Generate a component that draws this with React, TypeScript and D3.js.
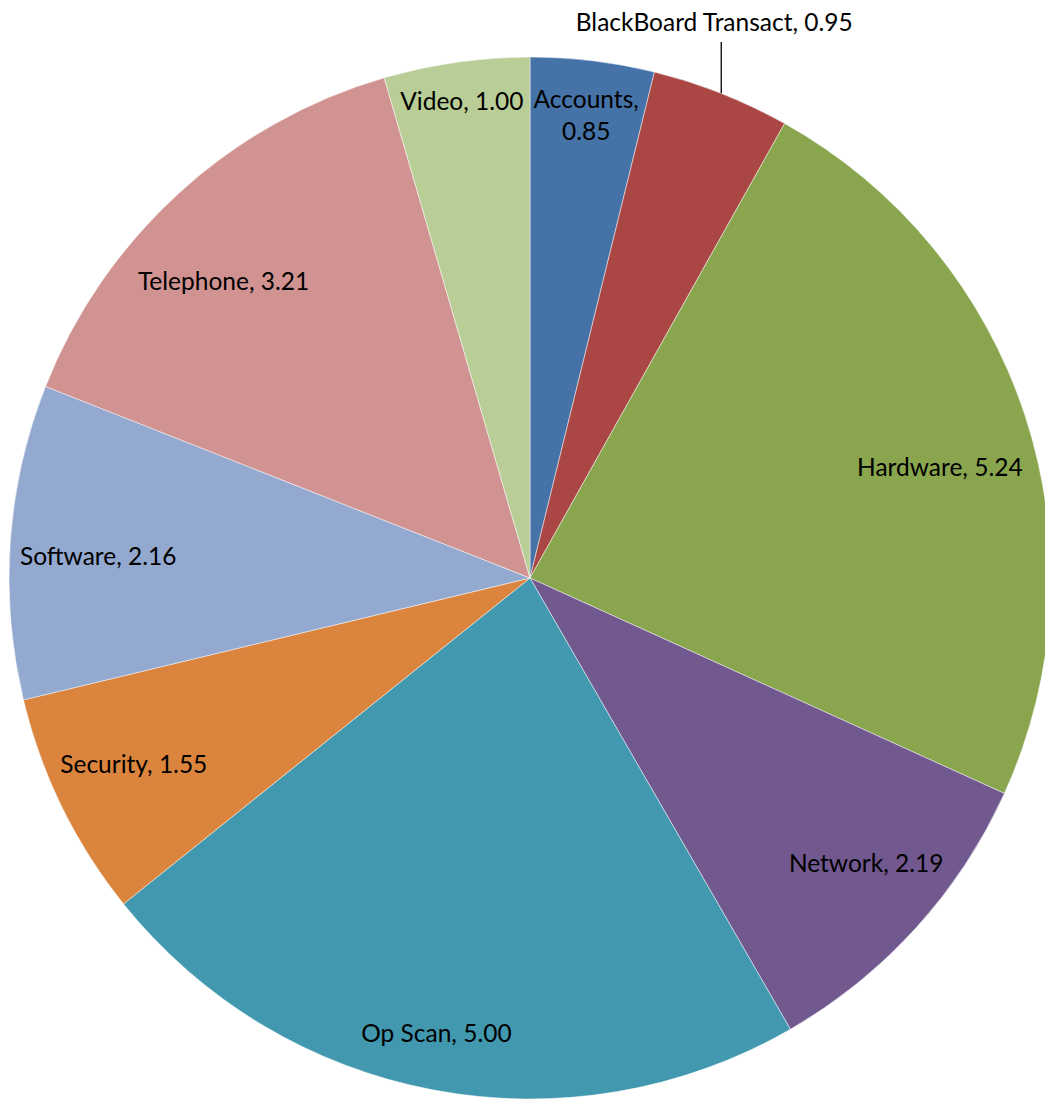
import React, { useEffect, useRef } from 'react';
import * as d3 from 'd3';

const categories = ['Accounts', 'BlackBoard Transact', 'Hardware', 'Network', 'Op Scan', 'Security', 'Software', 'Telephone', 'Video'];
const values = [0.85, 0.95, 5.24, 2.19, 5.0, 1.55, 2.16, 3.21, 1.0];
const colors = ['#4572A7', '#AA4643', '#89A54E', '#71588F', '#4198AF', '#DB843D', '#93A9CF', '#D19392', '#B9CD96'];

// best-fit label placement: radius as fraction of R, angle shift in degrees
const labelRadius = [0.897, 0, 0.815, 0.845, 0.89, 0.84, 0.83, 0.82, 0.925];
const labelShift = [0, 0, 3, -2, 1, 1, -1, -3.5, 0];

const width = 1045;
const height = 1101;

const App: React.FC = () => {
  const ref = useRef<SVGSVGElement | null>(null);

  useEffect(() => {
    document.body.style.margin = '0';
    if (!ref.current) return;
    const svg = d3.select(ref.current);
    svg.selectAll('*').remove();

    const cx = 530;
    const cy = 578;
    const r = 521;

    const pie = d3.pie<number>().sort(null).value((d) => d);
    const arcs = pie(values);
    const arc = d3.arc<d3.PieArcDatum<number>>().innerRadius(0).outerRadius(r);

    const g = svg.append('g').attr('transform', `translate(${cx},${cy})`);

    g.selectAll('path')
      .data(arcs)
      .enter()
      .append('path')
      .attr('d', arc)
      .attr('fill', (_, i) => colors[i])
      .attr('stroke', '#ffffff')
      .attr('stroke-opacity', 0.6)
      .attr('stroke-width', 0.8);

    const font = 'Lato, "Open Sans", sans-serif';
    const fs = 24.5;

    arcs.forEach((a, i) => {
      const mid = (a.startAngle + a.endAngle) / 2;
      const text = `${categories[i]}, ${values[i].toFixed(2)}`;
      if (labelRadius[i] === 0) {
        // outside label with leader line
        const px = r * Math.sin(mid);
        const py = -r * Math.cos(mid);
        g.append('line')
          .attr('x1', px).attr('y1', py)
          .attr('x2', px).attr('y2', -cy + 42)
          .attr('stroke', '#000').attr('stroke-width', 1.3);
        g.append('text')
          .attr('x', px - 7)
          .attr('y', -cy + 21)
          .attr('text-anchor', 'middle')
          .attr('dominant-baseline', 'central')
          .attr('font-family', font)
          .attr('font-size', fs)
          .attr('fill', '#000')
          .text(text);
        return;
      }
      const ang = mid + (labelShift[i] * Math.PI) / 180;
      const lr = r * labelRadius[i];
      const x = lr * Math.sin(ang);
      const y = -lr * Math.cos(ang);
      const t = g.append('text')
        .attr('text-anchor', 'middle')
        .attr('font-family', font)
        .attr('font-size', fs)
        .attr('fill', '#000');
      if (categories[i] === 'Accounts') {
        t.append('tspan').attr('x', x).attr('y', y - 16).attr('dominant-baseline', 'central').text(`${categories[i]},`);
        t.append('tspan').attr('x', x).attr('y', y + 16).attr('dominant-baseline', 'central').text(values[i].toFixed(2));
      } else {
        t.attr('x', x).attr('y', y).attr('dominant-baseline', 'central').text(text);
      }
    });
  }, []);

  return <svg ref={ref} width={width} height={height} style={{ display: 'block' }} />;
};

export default App;
